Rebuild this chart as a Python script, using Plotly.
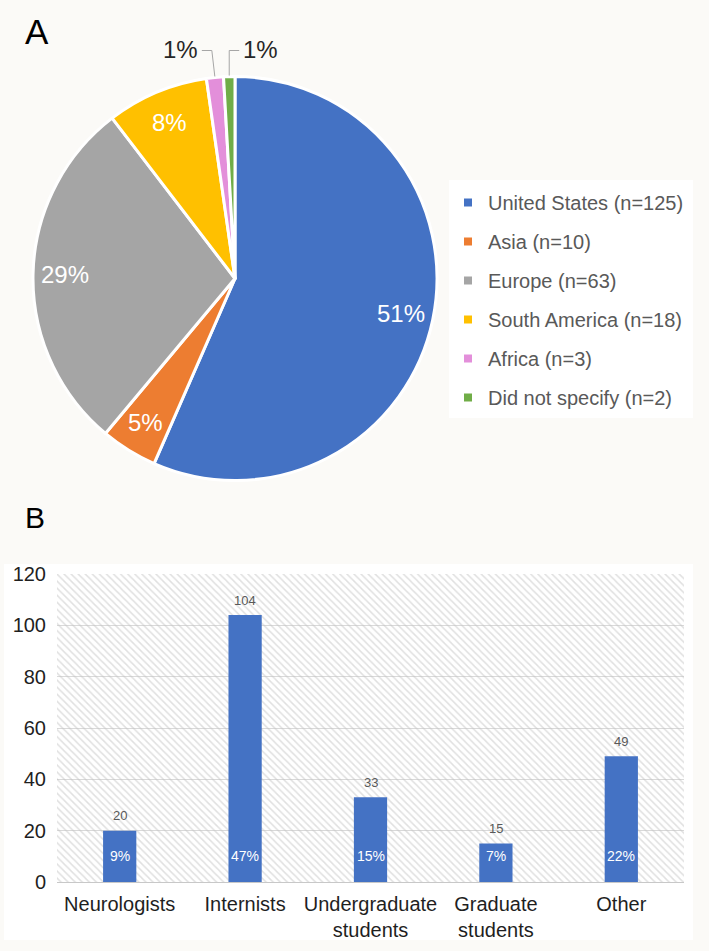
import math
import plotly.graph_objects as go

# ---------------- data ----------------
regions = ["United States (n=125)", "Asia (n=10)", "Europe (n=63)",
           "South America (n=18)", "Africa (n=3)", "Did not specify (n=2)"]
region_counts = [125, 10, 63, 18, 3, 2]
region_pct_labels = ["51%", "5%", "29%", "8%", "1%", "1%"]
region_colors = ["#4472C4", "#ED7D31", "#A5A5A5", "#FFC000", "#E38FDA", "#70AD47"]

roles = ["Neurologists", "Internists", "Undergraduate<br>students",
         "Graduate<br>students", "Other"]
role_counts = [20, 104, 33, 15, 49]
role_pct_labels = ["9%", "47%", "15%", "7%", "22%"]
y_ticks = [0, 20, 40, 60, 80, 100, 120]

W, H = 709, 951
BG = "#fbfaf7"
FONT = "Liberation Sans, Arial, sans-serif"


def px(x):
    return x / W


def py(y):
    return 1 - y / H


fig = go.Figure()

# ---------------- panel A : pie ----------------
cx, cy, r = 235.0, 278.5, 202.0
fig.add_trace(go.Pie(
    labels=regions,
    values=region_counts,
    textinfo="none",
    sort=False,
    direction="clockwise",
    rotation=0,
    marker=dict(colors=region_colors, line=dict(color="white", width=3)),
    showlegend=False,
    hoverinfo="label+value",
    domain=dict(x=[px(cx - r), px(cx + r)], y=[py(cy + r), py(cy - r)]),
))

# pie percentage labels, placed on each slice's bisector
annotations = []
shapes = []
total = sum(region_counts)
cum = 0
small_side = -1
for cnt, lab in zip(region_counts, region_pct_labels):
    mid = (cum + cnt / 2) / total * 2 * math.pi
    cum += cnt
    sx, sy = math.sin(mid), -math.cos(mid)
    if cnt / total >= 0.03:
        lx, ly = cx + 0.84 * r * sx, cy + 0.84 * r * sy
        annotations.append(dict(
            text=lab, x=px(lx), y=py(ly), xref="paper", yref="paper",
            xanchor="center", yanchor="middle", showarrow=False,
            font=dict(size=24, color="white", family=FONT)))
    else:
        ex, ey = cx + (r + 1) * sx, cy + (r + 1) * sy
        elbow_y = cy - r - 26
        elbow_x = ex - 3 if small_side < 0 else ex
        end_x = elbow_x + small_side * 10
        shapes.append(dict(
            type="path", xref="paper", yref="paper",
            path=f"M {px(end_x)} {py(elbow_y)} L {px(elbow_x)} {py(elbow_y)} L {px(ex)} {py(ey)}",
            line=dict(color="#a6a6a6", width=1)))
        annotations.append(dict(
            text=lab, x=px(end_x + small_side * 2), y=py(elbow_y - 1),
            xref="paper", yref="paper",
            xanchor="right" if small_side < 0 else "left", yanchor="middle",
            showarrow=False, font=dict(size=24, color="#262626", family=FONT)))
        small_side = -small_side

# legend entries for the pie (one per region)
for name, col in zip(regions, region_colors):
    fig.add_trace(go.Scatter(
        x=[None], y=[None], mode="markers", name=name,
        legendgroup=name,
        marker=dict(symbol="square", size=8, color=col),
        showlegend=True, hoverinfo="skip",
    ))

# ---------------- panel B : bars ----------------
idx = list(range(len(roles)))
# hatched plot-area background
fig.add_trace(go.Bar(
    x=[(len(roles) - 1) / 2], y=[y_ticks[-1]], width=[len(roles)],
    marker=dict(color="rgba(0,0,0,0)", line=dict(width=0),
                pattern=dict(shape="\\", fgcolor="#c2c2c2",
                             bgcolor="rgba(0,0,0,0)", size=5, solidity=0.3)),
    showlegend=False, hoverinfo="skip",
))
fig.add_trace(go.Bar(
    x=idx, y=role_counts, width=0.265,
    marker=dict(color="#4472C4", line=dict(width=0)),
    showlegend=False,
))
for i, v, p in zip(idx, role_counts, role_pct_labels):
    annotations.append(dict(
        text=str(v), x=i, y=v, xref="x", yref="y", yshift=15,
        xanchor="center", yanchor="middle", showarrow=False,
        font=dict(size=13, color="#595959", family=FONT)))
    annotations.append(dict(
        text=p, x=i, y=0, xref="x", yref="y", yshift=26,
        xanchor="center", yanchor="middle", showarrow=False,
        font=dict(size=14, color="white", family=FONT)))

annotations += [
    dict(text="A", x=px(23), y=py(31), xref="paper", yref="paper",
         xanchor="left", yanchor="middle", showarrow=False,
         font=dict(size=35, color="black", family=FONT)),
    dict(text="B", x=px(23), y=py(517), xref="paper", yref="paper",
         xanchor="left", yanchor="middle", showarrow=False,
         font=dict(size=30, color="black", family=FONT)),
]

shapes = [
    dict(type="rect", xref="paper", yref="paper", layer="below",
         x0=px(449), x1=px(693), y0=py(418), y1=py(180),
         fillcolor="white", line=dict(width=0)),
    dict(type="rect", xref="paper", yref="paper", layer="below",
         x0=px(4), x1=px(693), y0=py(940), y1=py(564),
         fillcolor="white", line=dict(width=0)),
] + shapes

fig.update_layout(
    width=W, height=H,
    margin=dict(l=0, r=0, t=0, b=0, autoexpand=False),
    paper_bgcolor=BG,
    plot_bgcolor="white",
    barmode="overlay",
    font=dict(family=FONT, color="#1f1f1f"),
    xaxis=dict(
        domain=[px(57), px(684)], range=[-0.5, len(roles) - 0.5],
        tickvals=idx, ticktext=roles, showgrid=False, zeroline=False,
        showline=False, ticks="", tickfont=dict(size=20, color="#1f1f1f"),
        ticklabelstandoff=8, fixedrange=True, automargin=False,
    ),
    yaxis=dict(
        domain=[py(882), py(574)], range=[y_ticks[0], y_ticks[-1]],
        tickvals=y_ticks, showgrid=True, gridcolor="#d9d9d9", gridwidth=1,
        zeroline=True, zerolinecolor="#c8c8c8", zerolinewidth=1,
        ticks="", tickfont=dict(size=20, color="#1f1f1f"),
        ticklabelstandoff=10, fixedrange=True, automargin=False,
    ),
    legend=dict(
        x=px(448), y=py(183), xanchor="left", yanchor="top",
        bgcolor="rgba(0,0,0,0)", borderwidth=0,
        font=dict(size=20, color="#595959", family=FONT),
        tracegroupgap=10, itemclick=False, itemdoubleclick=False,
    ),
    shapes=shapes,
    annotations=annotations,
)

fig.write_html("out.html")
